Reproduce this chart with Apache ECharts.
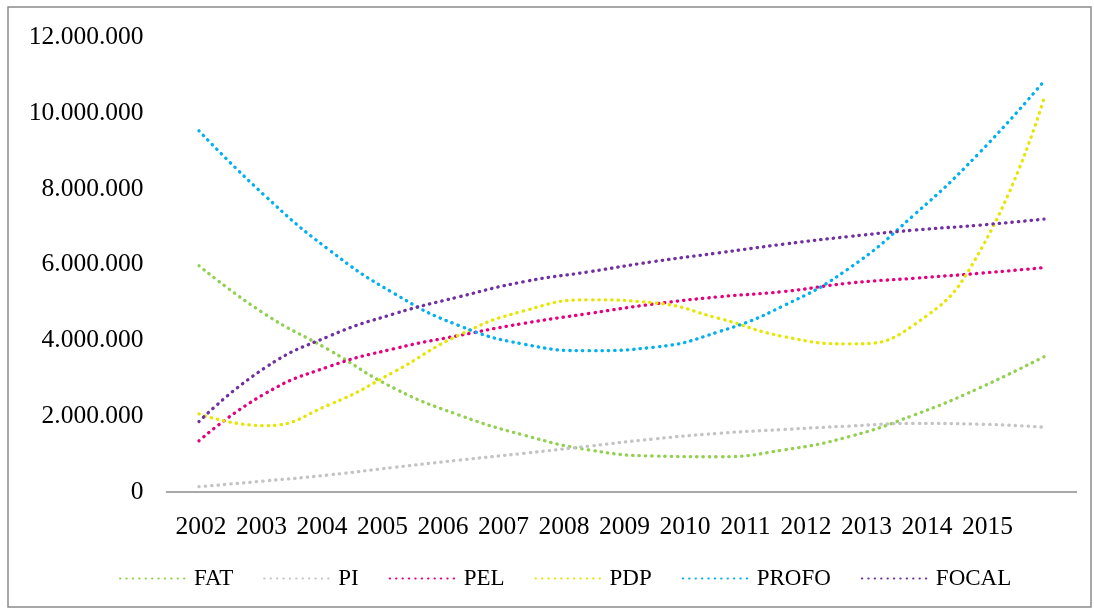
<!DOCTYPE html>
<html>
<head>
<meta charset="utf-8">
<script src="https://cdn.jsdelivr.net/npm/echarts@6/dist/echarts.min.js"></script>
<style>
html,body{margin:0;padding:0;background:#fff;}
#chart{width:1094px;height:609px;}
</style>
</head>
<body>
<div id="chart"></div>
<script>
var years = ['2002','2003','2004','2005','2006','2007','2008','2009','2010','2011','2012','2013','2014','2015'];
var FAT   = [5970000,4710000,3750000,2740000,2030000,1500000,1110000,950000,930000,1110000,1460000,2030000,2740000,3570000];
var PI    = [140000,290000,450000,650000,840000,1020000,1210000,1400000,1550000,1650000,1740000,1810000,1790000,1710000];
var PEL   = [1350000,2580000,3310000,3780000,4130000,4450000,4710000,4960000,5150000,5290000,5510000,5640000,5770000,5920000];
var PDP   = [2060000,1750000,2300000,3170000,4140000,4780000,5070000,4990000,4580000,4100000,3910000,4410000,6310000,10390000];
var PROFO = [9530000,7840000,6390000,5240000,4390000,3900000,3730000,3820000,4230000,4920000,5900000,7310000,8940000,10840000];
var FOCAL = [1860000,3260000,4110000,4700000,5150000,5550000,5810000,6080000,6310000,6540000,6740000,6910000,7040000,7200000];
var seriesNames = ['FAT','PI','PEL','PDP','PROFO','FOCAL'];
var seriesData = [FAT, PI, PEL, PDP, PROFO, FOCAL];
var colors = ['#92D050','#C4C4C4','#E6007E','#E6E600','#00B0F0','#7030A0'];

var font = 'Liberation Serif';
function fmt(v){ return String(v).replace(/\B(?=(\d{3})+(?!\d))/g, '.'); }

var chart = echarts.init(document.getElementById('chart'));
chart.setOption({
  animation: false,
  backgroundColor: '#fff',
  color: colors,
  graphic: [{
    type: 'rect',
    shape: { x: 8, y: 7, width: 1083, height: 600 },
    style: { fill: 'none', stroke: '#8a8a8a', lineWidth: 1.5 },
    silent: true, z: -1
  }],
  grid: [
    { left: 166.5, right: 17.5, top: 37.2, bottom: 117 },
    { left: 170.75, width: 847, top: 37.2, bottom: 117 }
  ],
  legend: {
    data: seriesNames,
    left: 114, top: 562,
    itemWidth: 67, itemHeight: 14, itemGap: 30,
    itemStyle: { opacity: 0 },
    textStyle: { fontFamily: font, fontSize: 23, color: '#000', padding: [0,0,0,2] }
  },
  xAxis: [
    { type: 'category', gridIndex: 0, data: years, boundaryGap: true,
      axisLine: { lineStyle: { color: '#8c8c8c', width: 1.5 } },
      axisTick: { show: false }, axisLabel: { show: false }, splitLine: { show: false } },
    { type: 'category', gridIndex: 1, data: years, boundaryGap: true,
      axisLine: { show: false }, axisTick: { show: false }, splitLine: { show: false },
      axisLabel: { interval: 0, margin: 22, fontFamily: font, fontSize: 25.5, color: '#000' } }
  ],
  yAxis: [
    { type: 'value', gridIndex: 0, min: 0, max: 12000000, interval: 2000000,
      axisLine: { show: false }, axisTick: { show: false }, splitLine: { show: false },
      axisLabel: { margin: 23, fontFamily: font, fontSize: 25.5, color: '#000', formatter: fmt } },
    { type: 'value', gridIndex: 1, min: 0, max: 12000000, interval: 2000000, show: false }
  ],
  series: seriesNames.map(function(n, i){
    return {
      name: n, type: 'line', xAxisIndex: 0, yAxisIndex: 0,
      data: seriesData[i], smooth: true, symbol: 'none',
      lineStyle: { color: colors[i], width: 3.3, type: [0.4, 6], cap: 'round' }
    };
  })
});
</script>
</body>
</html>
